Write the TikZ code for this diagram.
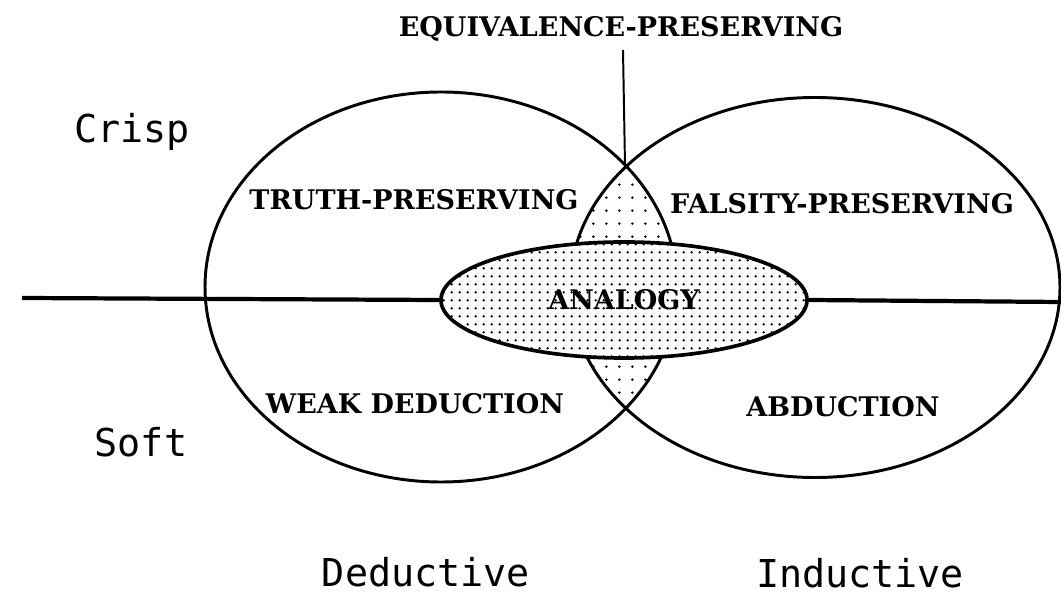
\documentclass[tikz,border=0pt]{standalone}
\usepackage{fontspec}
\newfontfamily\capsfont{DejaVu Serif}
\newfontfamily\sidefont{DejaVu Sans Mono}
\usetikzlibrary{shapes.geometric,patterns.meta}

\tikzdeclarepattern{name=finedots,type=uncolored,
  bottom left={(0pt,0pt)},top right={(5.8pt,5.8pt)},tile size={(5.8pt,5.8pt)},
  code={\fill (2.9pt,2.9pt) circle (1pt);}}
\tikzdeclarepattern{name=widedots,type=uncolored,
  bottom left={(0pt,0pt)},top right={(9.5pt,9.5pt)},tile size={(9.5pt,9.5pt)},
  code={\fill (4.75pt,4.75pt) circle (1pt);}}

\begin{document}
\begin{tikzpicture}[x=0.025cm,y=-0.025cm,
  caps/.style={font=\capsfont\bfseries\fontsize{19.2pt}{22pt}\selectfont,inner sep=0pt},
  side/.style={font=\sidefont\fontsize{27.3pt}{30pt}\selectfont,anchor=base,inner sep=0pt}]
\useasboundingbox (0,0) rectangle (1061,596);
% overlap of the two sets
\begin{scope}
\clip (441,287) ellipse [x radius=236,y radius=195];
\fill[pattern=widedots] (815,287.5) ellipse [x radius=245,y radius=190];
\end{scope}
\draw[line width=2.1pt] (441,287) ellipse [x radius=236,y radius=195];
\draw[line width=2.1pt] (815,287.5) ellipse [x radius=245,y radius=190];
\node[ellipse,draw,line width=2.6pt,fill=white,postaction={pattern=finedots},minimum width=9.15cm,minimum height=2.9cm,inner sep=0pt,font=\capsfont\bfseries\fontsize{19.2pt}{22pt}\selectfont] (analogy) at (624,300) {ANALOGY};
\coordinate (leftend) at (22,298);
\coordinate (rightend) at (1061,302);
\coordinate (eqtop) at (623,50);
\coordinate (lenstop) at (625,165);
\draw[line width=3pt] (leftend) -- (analogy.west);
\draw[line width=3pt] (analogy.east) -- (rightend);
\draw[line width=1.4pt] (eqtop) -- (lenstop);
\node[caps] (equiv) at (621,29) {EQUIVALENCE-PRESERVING};
\node[caps] (truth) at (414,200) {TRUTH-PRESERVING};
\node[caps] (falsity) at (842,204) {FALSITY-PRESERVING};
\node[caps] (weak) at (415,404) {WEAK DEDUCTION};
\node[caps] (abduction) at (843,407) {ABDUCTION};
\node[side] (crisp) at (132,143) {Crisp};
\node[side] (soft) at (141,457) {Soft};
\node[side] (deductive) at (426,587) {Deductive};
\node[side] (inductive) at (860,588) {Inductive};
\end{tikzpicture}
\end{document}
